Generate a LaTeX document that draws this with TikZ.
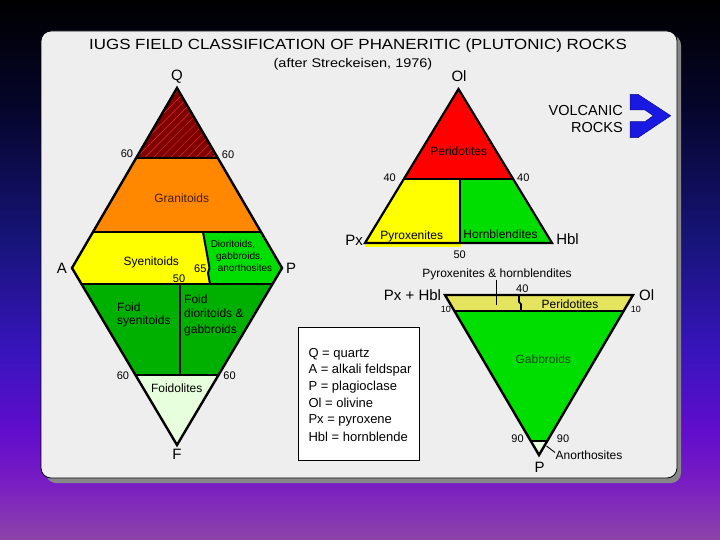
\documentclass[tikz,border=0pt]{standalone}
\usepackage{fontspec}
\setmainfont{Liberation Sans}
\newfontfamily\widefont[FakeStretch=1.15]{Liberation Sans}
\usetikzlibrary{patterns.meta}
\definecolor{panelgray}{RGB}{238,238,238}
\definecolor{shadowgray}{RGB}{135,135,135}
\definecolor{qred}{RGB}{128,0,0}
\definecolor{hatchred}{RGB}{215,50,50}
\definecolor{granorange}{RGB}{255,136,0}
\definecolor{syeyellow}{RGB}{255,255,0}
\definecolor{brightgreen}{RGB}{0,222,0}
\definecolor{foidgreen}{RGB}{0,176,0}
\definecolor{palegreen}{RGB}{232,255,222}
\definecolor{perired}{RGB}{255,0,0}
\definecolor{khaki}{RGB}{228,228,95}
\definecolor{arrowblue}{RGB}{25,25,225}
\definecolor{granitetext}{RGB}{70,30,10}
\definecolor{gabbrotext}{RGB}{30,75,30}
\pgfdeclareverticalshading{bgshade}{100bp}{%
  rgb(0bp)=(0.55,0.27,0.66);
  rgb(25bp)=(0.55,0.27,0.66);
  rgb(30bp)=(0.48,0.12,0.76);
  rgb(35bp)=(0.38,0.05,0.80);
  rgb(42.5bp)=(0.22,0.08,0.74);
  rgb(52.5bp)=(0.09,0.08,0.48);
  rgb(65bp)=(0.02,0.02,0.17);
  rgb(75bp)=(0,0,0);
  rgb(100bp)=(0,0,0)}
\begin{document}
\begin{tikzpicture}[x=1pt,y=-1pt,
  lab/.style={inner sep=0pt, text height=8.6pt, text depth=0pt, font=\fontsize{12}{14}\selectfont},
  biglab/.style={inner sep=0pt, text height=10.8pt, text depth=0pt, font=\fontsize{15}{18}\selectfont},
  numlab/.style={inner sep=0pt, text height=7.9pt, text depth=0pt, font=\fontsize{11}{13}\selectfont},
  tinylab/.style={inner sep=0pt, text height=6.5pt, text depth=0pt, font=\fontsize{9}{11}\selectfont},
  smalllab/.style={inner sep=0pt, text height=7.2pt, text depth=0pt, font=\fontsize{10}{12}\selectfont},
  leglab/.style={inner sep=0pt, anchor=west, text height=9.3pt, text depth=0pt, font=\fontsize{13}{15}\selectfont},
  outl/.style={line width=2.4pt, line join=miter, miter limit=10},
  inl/.style={line width=2pt, line cap=butt},
  thinl/.style={line width=0.9pt},
]
\useasboundingbox (0,0) rectangle (720,540);
\shade[shading=bgshade] (0,0) rectangle (720,540);
% panel
\fill[shadowgray, rounded corners=10pt] (46,35) rectangle (681,483);
\draw[fill=panelgray, line width=0.8pt, rounded corners=10pt] (41,31) rectangle (677,478);

% titles
\node[inner sep=0pt, text height=10.6pt, text depth=0pt, font=\widefont\fontsize{14.7}{17}\selectfont] (title) at (358,44) {IUGS FIELD CLASSIFICATION OF PHANERITIC (PLUTONIC) ROCKS};
\node[inner sep=0pt, text height=9pt, text depth=0pt, font=\widefont\fontsize{12.6}{15}\selectfont] (subtitle) at (353,63) {(after Streckeisen, 1976)};

% ===== QAPF diamond =====
\coordinate (Q) at (177,88);
\coordinate (A) at (72,268);
\coordinate (P) at (282,268);
\coordinate (F) at (177,445);
\coordinate (q60l) at (136.2,158);
\coordinate (q60r) at (217.8,158);
\coordinate (q20l) at (93,232);
\coordinate (q20r) at (261,232);
\coordinate (f10l) at (81.5,284);
\coordinate (f10r) at (272.5,284);
\coordinate (f60l) at (135.5,375);
\coordinate (f60r) at (218.5,375);
\coordinate (d1) at (203,232);
\coordinate (d2) at (209.5,268);
\coordinate (d3) at (208,273);
\coordinate (d4) at (210,284);
\coordinate (v1) at (180,284);
\coordinate (v2) at (180,375);

\fill[qred] (Q) -- (q60r) -- (q60l) -- cycle;
\pattern[pattern={Lines[angle=45,distance=6pt,line width=0.5pt]}, pattern color=hatchred] (Q) -- (q60r) -- (q60l) -- cycle;
\fill[granorange] (q60l) -- (q60r) -- (q20r) -- (q20l) -- cycle;
\fill[syeyellow] (q20l) -- (d1) -- (d2) -- (d3) -- (d4) -- (f10l) -- (A) -- cycle;
\fill[brightgreen] (d1) -- (q20r) -- (P) -- (f10r) -- (d4) -- (d3) -- (d2) -- cycle;
\fill[foidgreen] (f10l) -- (f10r) -- (f60r) -- (f60l) -- cycle;
\fill[palegreen] (f60l) -- (f60r) -- (F) -- cycle;

\draw[inl] (q60l) -- (q60r);
\draw[inl] (q20l) -- (q20r);
\draw[inl] (f10l) -- (f10r);
\draw[inl] (f60l) -- (f60r);
\draw[inl] (v1) -- (v2);
\draw[inl, line join=round] (d1) -- (d2) -- (d3) -- (d4);
\draw[outl] (Q) -- (P) -- (F) -- (A) -- cycle;

\node[biglab] (Qlab) at (177,75) {Q};
\node[biglab] (Alab) at (62,268) {A};
\node[biglab] (Plab) at (291,268) {P};
\node[biglab] (Flab) at (177,454) {F};
\node[numlab] (n60a) at (127,153.5) {60};
\node[numlab] (n60b) at (228,154.5) {60};
\node[numlab] (n60c) at (123,376) {60};
\node[numlab] (n60d) at (229.5,376) {60};
\node[lab, text=granitetext] (granit) at (181.7,198) {Granitoids};
\node[lab] (syen) at (151.3,261) {Syenitoids};
\node[numlab] (n65) at (200.3,268.7) {65};
\node[numlab] (n50a) at (179,279) {50};
\node[smalllab] (dior1) at (233,243.5) {Dioritoids,};
\node[smalllab] (dior2) at (239.5,255.5) {gabbroids,};
\node[smalllab] (dior3) at (245,268) {anorthosites};
\node[lab, anchor=west] (foid1) at (117,307.5) {Foid};
\node[lab, anchor=west] (foid2) at (117,320.5) {syenitoids};
\node[lab, anchor=west] (foid3) at (184,299) {Foid};
\node[lab, anchor=west] (foid4) at (184,313) {dioritoids \&};
\node[lab, anchor=west] (foid5) at (184,329.5) {gabbroids};
\node[lab] (foidol) at (176.7,388) {Foidolites};

% ===== Ol-Px-Hbl triangle =====
\coordinate (Ol) at (458.5,89);
\coordinate (Px) at (365,243);
\coordinate (Hbl) at (552,243);
\coordinate (o40l) at (403.9,179);
\coordinate (o40r) at (513.1,179);
\coordinate (ov1) at (460,179);
\coordinate (ov2) at (460,243);
\fill[syeyellow] (365,243) rectangle (461,247);
\fill[perired] (Ol) -- (o40r) -- (o40l) -- cycle;
\fill[syeyellow] (o40l) -- (ov1) -- (ov2) -- (Px) -- cycle;
\fill[brightgreen] (ov1) -- (o40r) -- (Hbl) -- (ov2) -- cycle;
\draw[inl] (o40l) -- (o40r);
\draw[inl] (ov1) -- (ov2);
\draw[outl, line width=2.2pt] (Ol) -- (Hbl) -- (Px) -- cycle;

\node[biglab] (Ollab) at (459,76) {Ol};
\node[biglab] (Pxlab) at (354,240) {Px};
\node[biglab] (Hbllab) at (567.5,239.5) {Hbl};
\node[lab] (perid1) at (458.7,151.3) {Peridotites};
\node[numlab] (n40a) at (389.7,177.3) {40};
\node[numlab] (n40b) at (523.3,177.3) {40};
\node[lab] (pyrox) at (411.7,235) {Pyroxenites};
\node[lab] (hornb) at (500.5,234.5) {Hornblendites};
\node[numlab] (n50b) at (459.7,255) {50};

% ===== (Px+Hbl)-Ol-P triangle =====
\coordinate (t1) at (445,295);
\coordinate (t2) at (633,295);
\coordinate (P2) at (539,455);
\coordinate (b1) at (454.4,311);
\coordinate (b2) at (623.6,311);
\coordinate (a1) at (530.8,441);
\coordinate (a2) at (547.2,441);
\coordinate (k1) at (519,295);
\coordinate (k2) at (519,302);
\coordinate (k3) at (521,304);
\coordinate (k4) at (521,311);
\fill[khaki] (t1) -- (t2) -- (b2) -- (b1) -- cycle;
\fill[brightgreen] (b1) -- (b2) -- (a2) -- (a1) -- cycle;
\fill[palegreen] (a1) -- (a2) -- (P2) -- cycle;
\draw[inl] (b1) -- (b2);
\draw[inl] (a1) -- (a2);
\draw[inl, line width=1.6pt, line join=round] (k1) -- (k2) -- (k3) -- (k4);
\draw[outl] (t1) -- (t2) -- (P2) -- cycle;

\node[lab] (pxhb) at (497,273) {Pyroxenites \& hornblendites};
\coordinate (pxhbtip) at (496,305);
\draw[thinl] (496,279.5) -- (pxhbtip);
\node[biglab] (pxplus) at (412.5,295.5) {Px + Hbl};
\node[biglab] (Ollab2) at (646.7,295.3) {Ol};
\node[numlab] (n40c) at (522.3,289) {40};
\node[lab] (perid2) at (570,304.3) {Peridotites};
\node[tinylab] (n10a) at (445.8,309) {10};
\node[tinylab] (n10b) at (635.8,309.5) {10};
\node[lab, text=gabbrotext] (gabbro) at (543.3,358.7) {Gabbroids};
\node[numlab] (n90a) at (517.5,438.5) {90};
\node[numlab] (n90b) at (563,438.5) {90};
\node[lab] (anorth) at (589,455.3) {Anorthosites};
\coordinate (anotip) at (546.5,446);
\draw[thinl] (555,452.5) -- (anotip);
\node[biglab] (P2lab) at (539.5,467.5) {P};

% ===== legend =====
\node[draw, fill=white, line width=0.8pt, minimum width=121pt, minimum height=133pt, inner sep=0pt] (legend) at (358.5,393.5) {};
\node[leglab] (lg1) at (308.3,352.7) {Q = quartz};
\node[leglab] (lg2) at (308.3,369.3) {A = alkali feldspar};
\node[leglab] (lg3) at (308.3,386) {P = plagioclase};
\node[leglab] (lg4) at (308.3,402.7) {Ol = olivine};
\node[leglab] (lg5) at (308.3,419.3) {Px = pyroxene};
\node[leglab] (lg6) at (308.3,436.7) {Hbl = hornblende};

% ===== volcanic rocks =====
\node[biglab, anchor=east, font=\fontsize{14.5}{17}\selectfont] (volc1) at (623,110) {VOLCANIC};
\node[biglab, anchor=east, font=\fontsize{14.5}{17}\selectfont] (volc2) at (623,127) {ROCKS};
\fill[arrowblue, draw=arrowblue!60!black, line width=0.5pt, line join=miter]
  (630,94.3) -- (638,94.3) -- (670.7,115.7) -- (638,137.7) -- (630,137.7) -- (630,121.7)
  -- (645,121.7) -- (653.3,115.7) -- (645,110) -- (630,110) -- cycle;
\end{tikzpicture}
\end{document}
